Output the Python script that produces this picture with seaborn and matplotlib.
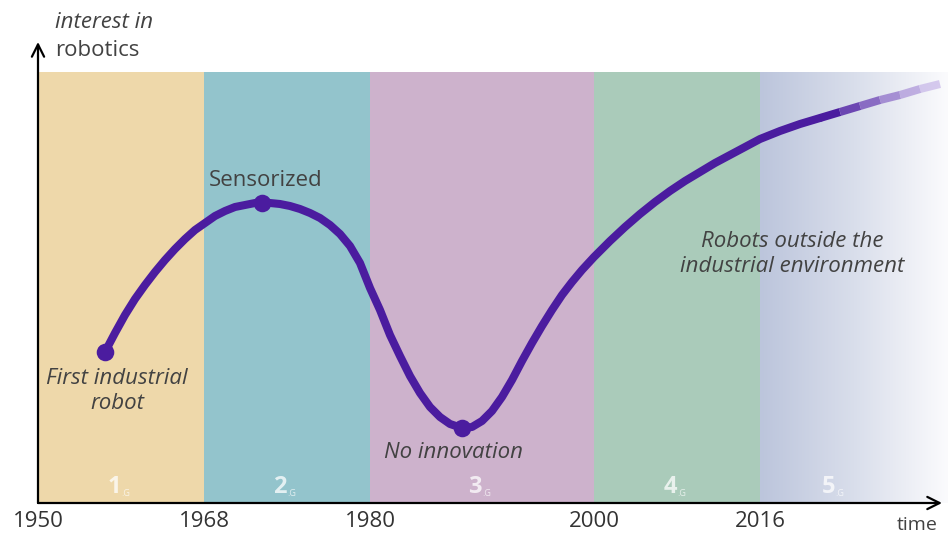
import numpy as np
import matplotlib
matplotlib.use("Agg")
import matplotlib.pyplot as plt
import matplotlib.colors as mcolors
from matplotlib.collections import LineCollection
import seaborn as sns

sns.set_theme(style="white")
plt.rcParams['font.family'] = ['Open Sans', 'DejaVu Sans']

# timeline position (x) and interest (y)
era_edges = [0, 166, 332, 556, 722, 910]
era_years = ["1950", "1968", "1980", "2000", "2016"]
era_colors = ["#EED8AA", "#93C4CC", "#CDB2CC", "#AACBBA", "#BCC5DC"]
gen_names = ["1", "2", "3", "4", "5"]
gen_label_pos = [83, 249, 444, 639, 797]

curve_x = [67, 77, 87, 97, 107, 117, 127, 137, 147, 157, 167, 177, 187, 197, 207, 217,
           224, 232, 242, 252, 262, 272, 282, 292, 302, 312, 322, 332, 342, 352, 362,
           372, 382, 392, 402, 412, 424, 434, 444, 454, 464, 474, 484, 494, 504, 514,
           524, 534, 544, 556, 572, 587, 602, 617, 632, 647, 662, 677, 692, 707, 722,
           742, 762, 782, 802, 822, 842, 862, 882, 902]
curve_y = [151, 170, 188, 204, 218, 231, 243, 254, 264, 273, 280, 287, 292, 296, 298, 300,
           300, 300, 299, 297, 294, 290, 285, 278, 269, 257, 240, 215, 193, 168, 147,
           127, 110, 96, 86, 79, 75, 76, 82, 92, 106, 123, 142, 160, 177, 193,
           208, 221, 233, 246, 262, 276, 289, 301, 312, 322, 331, 340, 348, 356, 364,
           372, 379, 385, 391, 397, 403, 408, 414, 419]

milestone_x = [67, 224, 424]
milestone_y = [151, 300, 75]

line_color = "#4B1C9F"
text_color = "#424242"

fig = plt.figure(figsize=(9.48, 5.33), dpi=100)
ax = fig.add_axes([38 / 948, 30 / 533, 910 / 948, 431 / 533])
ax.set_xlim(era_edges[0], era_edges[-1])
ax.set_ylim(0, 431)

# era bands
for i in range(4):
    ax.axvspan(era_edges[i], era_edges[i + 1], color=era_colors[i], lw=0, zorder=0)
grad = mcolors.LinearSegmentedColormap.from_list(
    "fade", [(0, era_colors[4]), (0.5, "#D9DEEB"), (1, "#FBFBFD")])
ax.imshow(np.linspace(0, 1, 256).reshape(1, -1), cmap=grad, aspect="auto",
          extent=[era_edges[4], era_edges[5], 0, 431], zorder=0)

# generation labels
for name, pos in zip(gen_names, gen_label_pos):
    ax.text(pos, 4, name, ha="right", va="bottom", fontsize=17, fontweight="bold",
            color="white", alpha=0.75, zorder=2)
    ax.text(pos, 5, ".G", ha="left", va="bottom", fontsize=6.5,
            color="white", alpha=0.7, zorder=2)

# main curve, solid part
n_solid = curve_x.index(782) + 1
sns.lineplot(x=curve_x[:n_solid], y=curve_y[:n_solid], sort=False, color=line_color,
             lw=5.8, ax=ax, zorder=3, solid_capstyle="round", solid_joinstyle="round")

# fading tail
tail = np.column_stack([curve_x[n_solid - 1:], curve_y[n_solid - 1:]])
segs = [tail[i:i + 2] for i in range(len(tail) - 1)]
t = np.linspace(0, 1, len(segs))
c0 = np.array(mcolors.to_rgb(line_color))
c1 = np.array(mcolors.to_rgb("#B9A3E3"))
tail_cols = [(*(c0 + (c1 - c0) * k), 1.0 - 0.45 * k) for k in t]
ax.add_collection(LineCollection(segs, colors=tail_cols, linewidths=5.8,
                                 capstyle="butt", zorder=3))

ax.scatter(milestone_x, milestone_y, s=160, color=line_color, zorder=4, lw=0)

# annotations
ax.text(228, 322, "Sensorized", ha="center", va="center", fontsize=16, color=text_color)
ax.text(79, 112, "First industrial\nrobot", ha="center", va="center", fontsize=16,
        style="italic", color=text_color, linespacing=1.2)
ax.text(415, 50, "No innovation", ha="center", va="center", fontsize=16,
        style="italic", color=text_color)
ax.text(754, 249, "Robots outside the\nindustrial environment", ha="center", va="center",
        fontsize=16, style="italic", color=text_color, linespacing=1.2)
ax.text(17, 481, "interest in", ha="left", va="center", fontsize=16, style="italic",
        color=text_color, clip_on=False)
ax.text(17, 453, "robotics", ha="left", va="center", fontsize=16,
        color=text_color, clip_on=False)
ax.text(879, -22, "time", ha="center", va="center", fontsize=14, color=text_color,
        clip_on=False)

# axes with arrows
for side in ["top", "right", "left", "bottom"]:
    ax.spines[side].set_visible(False)
ax.annotate("", xy=(0, 461), xytext=(0, 0), annotation_clip=False,
            arrowprops=dict(arrowstyle="->", color="black", lw=1.6,
                            mutation_scale=22, shrinkA=0, shrinkB=0))
ax.annotate("", xy=(904, 0), xytext=(0, 0), annotation_clip=False,
            arrowprops=dict(arrowstyle="->", color="black", lw=1.6,
                            mutation_scale=22, shrinkA=0, shrinkB=0))

ax.set_xticks(era_edges[:5])
ax.set_xticklabels(era_years, fontsize=16, color="#333333")
ax.set_yticks([])
ax.tick_params(axis="x", length=0, pad=6)
ax.set_xlabel("")
ax.set_ylabel("")

fig.savefig("out.png", dpi=100)
